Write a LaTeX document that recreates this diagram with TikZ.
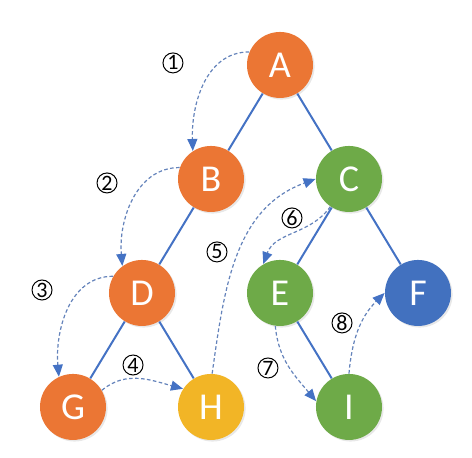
\documentclass[tikz,border=0pt]{standalone}
\usepackage{fontspec}
\setmainfont{Carlito}
\usepackage{xcolor}
\usetikzlibrary{arrows.meta,shadows}
\definecolor{nodeorange}{HTML}{EB7634}
\definecolor{nodegreen}{HTML}{6EAA48}
\definecolor{nodeblue}{HTML}{4271BF}
\definecolor{nodeyellow}{HTML}{F2B526}
\definecolor{edgeblue}{HTML}{4472C4}
\definecolor{dashblue}{HTML}{6483BB}

\begin{document}
\begin{tikzpicture}[x=34.5pt, y=-57pt,
    vertex/.style={circle, minimum size=33pt, inner sep=0pt, text=white,
        font=\fontsize{19}{21}\selectfont,
        drop shadow={opacity=0.18, shadow xshift=0.8pt, shadow yshift=-0.8pt}},
    edge/.style={draw=edgeblue, line width=1pt},
    visit/.style={draw=dashblue, line width=0.6pt, dash pattern=on 1.8pt off 1.2pt,
        -{Triangle[length=6pt, width=5pt, color=edgeblue]}},
    stepnum/.style={circle, draw, line width=0.5pt, minimum size=10pt, inner sep=0pt,
        font=\fontsize{11}{12}\selectfont}]
    \useasboundingbox (-0.058,-0.570) rectangle (6.783,3.447);

    % Tree nodes
    \node[vertex, fill=nodeorange] (A) at (4,0) {A};
    \node[vertex, fill=nodeorange] (B) at (3,1) {B};
    \node[vertex, fill=nodegreen]  (C) at (5,1) {C};
    \node[vertex, fill=nodeorange] (D) at (2,2) {D};
    \node[vertex, fill=nodegreen]  (E) at (4,2) {E};
    \node[vertex, fill=nodeblue]   (F) at (6,2) {F};
    \node[vertex, fill=nodeorange] (G) at (1,3) {G};
    \node[vertex, fill=nodeyellow] (H) at (3,3) {H};
    \node[vertex, fill=nodegreen]  (I) at (5,3) {I};

    % Tree edges
    \draw[edge] (A) -- (B);
    \draw[edge] (A) -- (C);
    \draw[edge] (B) -- (D);
    \draw[edge] (C) -- (E);
    \draw[edge] (C) -- (F);
    \draw[edge] (D) -- (G);
    \draw[edge] (D) -- (H);
    \draw[edge] (E) -- (I);

    % Visiting order
    \draw[visit] (A.157) to[out=180, in=92] (B.123);
    \draw[visit] (B.160) to[out=180, in=95] (D.126);
    \draw[visit] (D.150) to[out=180, in=95] (G.115);
    \draw[visit] (G.30) to[out=40, in=165] (H.147);
    \draw[visit] (H.88) to[out=82, in=200] (C.180);
    \draw[visit] (C.236) to[out=235, in=70] (E.120);
    \draw[visit] (E.262) to[out=275, in=130] (I.170);
    \draw[visit] (I.90) to[out=85, in=225] (F.180);

    \node[stepnum] (s1) at (2.449,-0.018) {1};
    \node[stepnum] (s2) at (1.493,1.035) {2};
    \node[stepnum] (s3) at (0.551,1.974) {3};
    \node[stepnum] (s4) at (1.870,2.632) {4};
    \node[stepnum] (s5) at (3.087,1.640) {5};
    \node[stepnum] (s6) at (4.174,1.342) {6};
    \node[stepnum] (s7) at (3.826,2.658) {7};
    \node[stepnum] (s8) at (4.899,2.263) {8};
\end{tikzpicture}
\end{document}
